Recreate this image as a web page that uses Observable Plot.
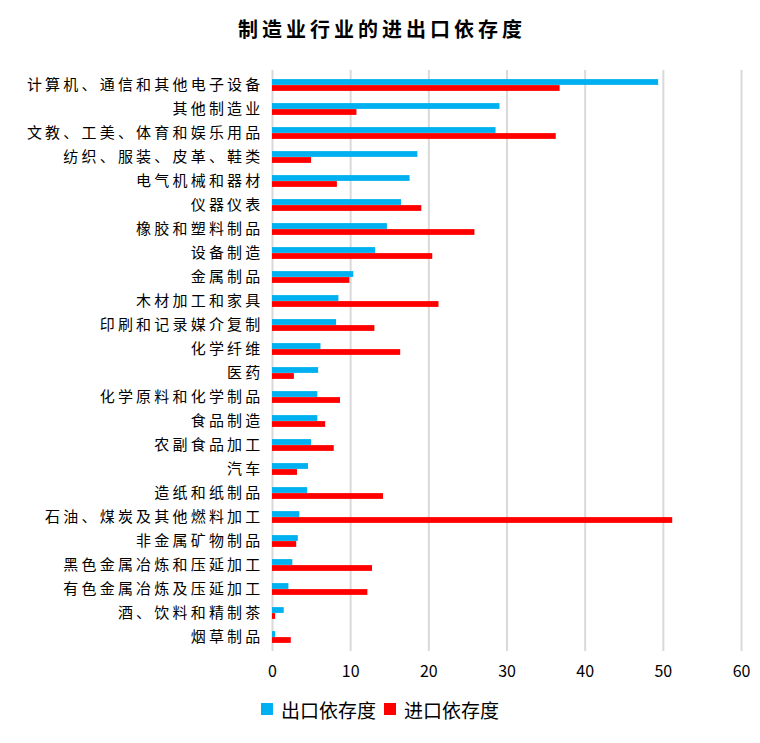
<!DOCTYPE html>
<html>
<head>
<meta charset="utf-8">
<script src="https://cdn.jsdelivr.net/npm/d3@7"></script>
<script src="https://cdn.jsdelivr.net/npm/@observablehq/plot@0.6"></script>
<style>
  html, body { margin: 0; padding: 0; background: #fff; }
  body { width: 760px; font-family: "Noto Sans CJK SC", "Noto Sans", sans-serif; }
  #title { height: 58px; line-height: 58px; text-align: center; font-size: 20px; font-weight: bold; letter-spacing: 4px; padding-left: 4px; color: #000; }
  #chart svg { display: block; }
  #legend { display: flex; justify-content: center; align-items: center; height: 26px; font-size: 19px; color: #000; }
  .sw { width: 12px; height: 12px; display: inline-block; margin-right: 8px; }
  .item { display: flex; align-items: center; margin: 0 4px; }
</style>
</head>
<body>
<div id="title">制造业行业的进出口依存度</div>
<div id="chart"></div>
<div id="legend"></div>
<script>
const categories = [
  "计算机、通信和其他电子设备", "其他制造业", "文教、工美、体育和娱乐用品", "纺织、服装、皮革、鞋类",
  "电气机械和器材", "仪器仪表", "橡胶和塑料制品", "设备制造", "金属制品", "木材加工和家具",
  "印刷和记录媒介复制", "化学纤维", "医药", "化学原料和化学制品", "食品制造", "农副食品加工",
  "汽车", "造纸和纸制品", "石油、煤炭及其他燃料加工", "非金属矿物制品", "黑色金属冶炼和压延加工",
  "有色金属冶炼及压延加工", "酒、饮料和精制茶", "烟草制品"
];
const exportValues = [49.4, 29.1, 28.6, 18.6, 17.6, 16.5, 14.7, 13.2, 10.4, 8.5, 8.2, 6.2, 5.9, 5.8, 5.8, 5.0, 4.6, 4.5, 3.5, 3.3, 2.6, 2.1, 1.5, 0.4];
const importValues = [36.8, 10.8, 36.3, 5.0, 8.3, 19.1, 25.9, 20.5, 9.9, 21.3, 13.1, 16.4, 2.8, 8.7, 6.8, 7.9, 3.2, 14.2, 51.2, 3.1, 12.8, 12.2, 0.4, 2.4];
const seriesNames = ["出口依存度", "进口依存度"];
const seriesColors = ["#00B0F0", "#FF0000"];
const xTicks = [0, 10, 20, 30, 40, 50, 60];

const rows = categories.map((c, i) => ({category: c, exp: exportValues[i], imp: importValues[i]}));

const H = 638, MT = 12, MB = 45;
const bw = (H - MT - MB) / categories.length;
const barH = 6;

const chart = Plot.plot({
  width: 760,
  height: H,
  marginLeft: 272,
  marginRight: 19,
  marginTop: MT,
  marginBottom: MB,
  style: {fontFamily: '"Noto Sans CJK SC", "Noto Sans", sans-serif', color: "#000", background: "#fff"},
  x: {domain: [0, 60]},
  y: {domain: categories, padding: 0},
  marks: [
    Plot.gridX(xTicks, {stroke: "#d9d9d9", strokeOpacity: 1, strokeWidth: 2}),
    Plot.barX(rows, {y: "category", x: "exp", fill: seriesColors[0], insetTop: bw / 2 - barH, insetBottom: bw / 2}),
    Plot.barX(rows, {y: "category", x: "imp", fill: seriesColors[1], insetTop: bw / 2, insetBottom: bw / 2 - barH}),
    Plot.axisX({ticks: xTicks, tickSize: 0, tickPadding: 14, fontSize: 16, label: null, tickFormat: d => String(d)}),
    Plot.axisY({tickSize: 0, tickPadding: 9, fontSize: 15, label: null})
  ]
});
document.getElementById("chart").appendChild(chart);
chart.querySelectorAll('g[aria-label="y-axis tick label"] text').forEach(t => t.style.letterSpacing = "3.2px");

const legend = document.getElementById("legend");
seriesNames.forEach((name, i) => {
  const item = document.createElement("span");
  item.className = "item";
  const sw = document.createElement("span");
  sw.className = "sw";
  sw.style.background = seriesColors[i];
  item.appendChild(sw);
  item.appendChild(document.createTextNode(name));
  legend.appendChild(item);
});
</script>
</body>
</html>
